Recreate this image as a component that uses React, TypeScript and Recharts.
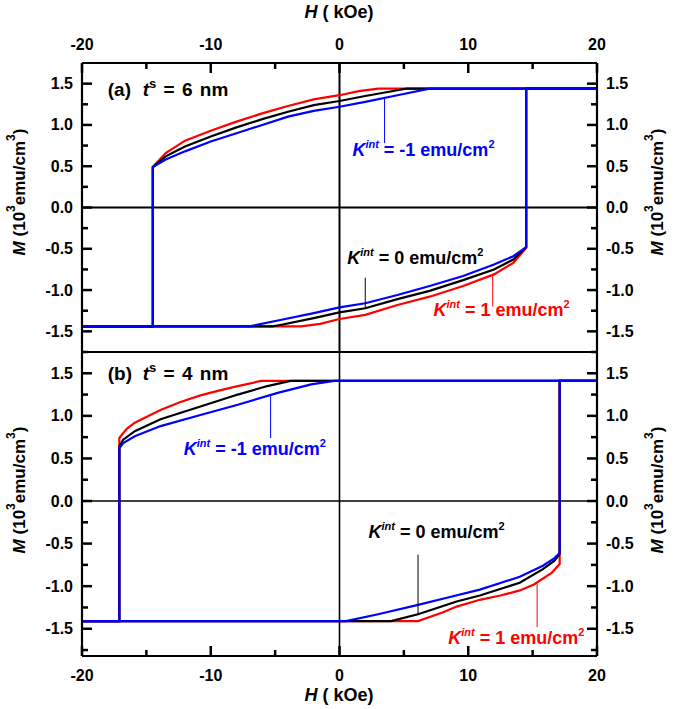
import React from 'react';
import { LineChart, Line, XAxis, YAxis, ReferenceLine, ReferenceDot } from 'recharts';

type Pt = [number, number];

// ---------- axes ----------
const H_TICKS = [-20, -15, -10, -5, 0, 5, 10, 15, 20];
const H_LABELED = [-20, -10, 0, 10, 20];
const M_TICKS = [-1.75, -1.5, -1.25, -1, -0.75, -0.5, -0.25, 0, 0.25, 0.5, 0.75, 1, 1.25, 1.5];
const M_LABELED = [-1.5, -1, -0.5, 0, 0.5, 1, 1.5];
const H_DOMAIN: [number, number] = [-20, 20];
const DOMAIN_A: [number, number] = [-1.75, 1.75];
const DOMAIN_B: [number, number] = [-1.82, 1.75];

// ---------- panel (a): t_s = 6 nm ----------
const A_RED_DOWN: Pt[] = [[20, 1.44], [3.0, 1.44], [1.5, 1.41], [0, 1.36], [-2, 1.31], [-4, 1.23], [-6, 1.14], [-8, 1.04], [-10, 0.93], [-12, 0.81], [-13.5, 0.66], [-14.5, 0.49], [-14.5, -1.44], [-20, -1.44]];
const A_BLACK_DOWN: Pt[] = [[20, 1.44], [5.2, 1.44], [4.5, 1.42], [2, 1.35], [0, 1.29], [-2, 1.24], [-4, 1.16], [-6, 1.07], [-8, 0.97], [-10, 0.86], [-12, 0.74], [-13.5, 0.62], [-14.5, 0.49], [-14.5, -1.44], [-20, -1.44]];
const A_BLUE_DOWN: Pt[] = [[20, 1.44], [7, 1.44], [4.5, 1.36], [2, 1.28], [0, 1.22], [-2, 1.17], [-4, 1.10], [-6, 1.00], [-8, 0.90], [-10, 0.80], [-12, 0.68], [-13.5, 0.58], [-14.5, 0.49], [-14.5, -1.44], [-20, -1.44]];
const A_RED_UP: Pt[] = [[-20, -1.44], [-3, -1.44], [-1.5, -1.41], [0, -1.35], [2, -1.30], [4.5, -1.18], [7, -1.08], [9.6, -0.95], [12, -0.81], [13.5, -0.67], [14.5, -0.49], [14.5, 1.44], [20, 1.44]];
const A_BLACK_UP: Pt[] = [[-20, -1.44], [-5.2, -1.44], [-4.5, -1.42], [-2, -1.34], [0, -1.27], [2, -1.22], [4.5, -1.11], [7, -1.01], [9.6, -0.88], [12, -0.75], [13.5, -0.63], [14.5, -0.48], [14.5, 1.44], [20, 1.44]];
const A_BLUE_UP: Pt[] = [[-20, -1.44], [-7, -1.44], [-4.5, -1.36], [-2, -1.28], [0, -1.21], [2, -1.16], [4.5, -1.06], [7, -0.95], [9.6, -0.83], [12, -0.69], [13.5, -0.59], [14.5, -0.48], [14.5, 1.44], [20, 1.44]];

// ---------- panel (b): t_s = 4 nm ----------
const B_RED_DOWN: Pt[] = [[20, 1.41], [-6.1, 1.41], [-7.9, 1.35], [-9.3, 1.30], [-10.8, 1.24], [-12.4, 1.16], [-13.9, 1.07], [-15.9, 0.92], [-16.5, 0.85], [-17.0, 0.76], [-17.1, 0.74], [-17.1, -1.41], [-20, -1.41]];
const B_BLACK_DOWN: Pt[] = [[20, 1.41], [-3.8, 1.41], [-5.6, 1.35], [-7.9, 1.25], [-10.8, 1.11], [-13.9, 0.96], [-15.9, 0.82], [-16.8, 0.72], [-17.1, 0.64], [-17.1, -1.41], [-20, -1.41]];
const B_BLUE_DOWN: Pt[] = [[20, 1.41], [-0.4, 1.41], [-2.2, 1.37], [-4.8, 1.27], [-7.9, 1.13], [-10.8, 1.01], [-13.9, 0.88], [-15.9, 0.76], [-16.8, 0.68], [-17.1, 0.62], [-17.1, -1.41], [-20, -1.41]];
const B_RED_UP: Pt[] = [[-20, -1.41], [6.1, -1.41], [8, -1.31], [9.1, -1.24], [10.9, -1.16], [12.5, -1.11], [14, -1.05], [15.1, -0.98], [16.5, -0.84], [17.1, -0.74], [17.1, 1.41], [20, 1.41]];
const B_BLACK_UP: Pt[] = [[-20, -1.41], [4.0, -1.41], [6.1, -1.33], [9.1, -1.18], [10.9, -1.11], [14, -0.96], [15.8, -0.80], [16.7, -0.70], [17.1, -0.62], [17.1, 1.41], [20, 1.41]];
const B_BLUE_UP: Pt[] = [[-20, -1.41], [0.5, -1.41], [3, -1.33], [6.1, -1.22], [8.5, -1.13], [10.9, -1.04], [14, -0.89], [15.8, -0.76], [16.7, -0.67], [17.1, -0.61], [17.1, 1.41], [20, 1.41]];

// ---------- annotations: [textH, textM, leaderH, leaderM1, leaderM2] ----------
const K_VALUES = ['-1', '0', '1'];
const A_NOTES: number[][] = [[1.0, 0.62, 3.5, 1.33, 0.78], [0.6, -0.69, 2.0, -0.85, -1.22], [7.3, -1.32, 11.9, -0.81, -1.2]];
const B_NOTES: number[][] = [[-12.1, 0.545, -5.35, 1.25, 0.74], [2.25, -0.43, 6.1, -0.63, -1.33], [8.45, -1.68, 15.35, -0.97, -1.48]];
const PANEL_TAGS = ['(a)', '(b)'];
const PANEL_THICK = ['6 nm', '4 nm'];
const A_TAG_POS: Pt = [-18.0, 1.345];
const B_TAG_POS: Pt = [-18.0, 1.42];

const FONT = '"Liberation Sans", Arial, Helvetica, sans-serif';
const RED = '#ff0000';
const BLACK = '#000000';
const BLUE = '#0000ff';
const NOTE_COLORS = [BLUE, BLACK, RED];
const MAJOR_LEN = 10;
const MINOR_LEN = 6;

const rows = (pts: Pt[]) => pts.map(([h, m]) => ({ h, m }));

// x-axis tick: inward tick mark + label outside (tickSize=0, tickMargin=0 => (x,y) sits on the axis line)
function HTick(props: any) {
  const { x, y, payload, side } = props;
  const v = payload.value;
  const major = H_LABELED.includes(v);
  const dir = side === 'top' ? 1 : -1;
  const len = major ? MAJOR_LEN : MINOR_LEN;
  return (
    <g>
      <path d={`M${x},${y}L${x},${y + dir * len}`} stroke="#000" strokeWidth={2.5} fill="none" />
      {major && (
        <text x={x} y={side === 'top' ? y - 19 : y + 19} textAnchor="middle" dominantBaseline="central"
          fontFamily={FONT} fontWeight="bold" fontSize={16} fill="#000">{String(v)}</text>
      )}
    </g>
  );
}

function MTick(props: any) {
  const { x, y, payload, side } = props;
  const v = payload.value;
  const major = M_LABELED.includes(v);
  const dir = side === 'left' ? 1 : -1;
  const len = major ? MAJOR_LEN : MINOR_LEN;
  return (
    <g>
      <path d={`M${x},${y}L${x + dir * len},${y}`} stroke="#000" strokeWidth={2.5} fill="none" />
      {major && (
        <text x={side === 'left' ? x - 9 : x + 9} y={y} textAnchor={side === 'left' ? 'end' : 'start'}
          dominantBaseline="central" fontFamily={FONT} fontWeight="bold" fontSize={16} fill="#000">
          {v.toFixed(1)}
        </text>
      )}
    </g>
  );
}

function KLabel({ x, y, value, color }: any) {
  return (
    <text x={x} y={y} fill={color} fontFamily={FONT} fontWeight="bold" fontSize={18} xmlSpace="preserve">
      <tspan fontStyle="italic">K</tspan>
      <tspan fontStyle="italic" fontSize={11} dy={-8}>int</tspan>
      <tspan dy={8}>{' = ' + value + ' emu/cm'}</tspan>
      <tspan fontSize={11} dy={-8}>2</tspan>
    </text>
  );
}

function PanelTag({ x, y, tag, thick }: any) {
  return (
    <g>
      <text x={x} y={y} fontFamily={FONT} fontWeight="bold" fontSize={19} fill="#000">{tag}</text>
      <text x={x + 35} y={y} fontFamily={FONT} fontWeight="bold" fontSize={19} fill="#000" xmlSpace="preserve" wordSpacing={2}>
        <tspan fontStyle="italic">t</tspan>
        <tspan fontSize={13} dy={-8}>s</tspan>
        <tspan dy={8}>{' = ' + thick}</tspan>
      </text>
    </g>
  );
}

function MTitle({ x, y }: any) {
  return (
    <text transform={`translate(${x},${y}) rotate(-90)`} textAnchor="middle" dominantBaseline="central"
      fontFamily={FONT} fontWeight="bold" fontSize={17} fill="#000" xmlSpace="preserve">
      <tspan fontStyle="italic">M</tspan>
      <tspan>{' (10'}</tspan>
      <tspan fontSize={12} dy={-8}>3</tspan>
      <tspan dy={8}>emu/cm</tspan>
      <tspan fontSize={12} dy={-8}>3</tspan>
      <tspan dy={8}>)</tspan>
    </text>
  );
}

const AX = { stroke: '#000', strokeWidth: 2.2 };

function series(list: Pt[][], colors: string[], prefix: string) {
  return list.map((pts, i) => (
    <Line key={prefix + i} data={rows(pts)} dataKey="m" type="linear" stroke={colors[i]} strokeWidth={2.2}
      dot={false} activeDot={false} isAnimationActive={false} />
  ));
}

function notes(list: number[][], prefix: string) {
  const out: any[] = [];
  list.forEach((n, i) => {
    out.push(
      <ReferenceLine key={prefix + 'l' + i} segment={[{ x: n[2], y: n[3] }, { x: n[2], y: n[4] }]}
        stroke={NOTE_COLORS[i]} strokeWidth={1} />
    );
    out.push(
      <ReferenceDot key={prefix + 'd' + i} x={n[0]} y={n[1]} r={0}
        shape={(p: any) => <KLabel x={p.cx} y={p.cy} value={K_VALUES[i]} color={NOTE_COLORS[i]} />} />
    );
  });
  return out;
}

function axes(domainM: [number, number], xSide: 'top' | 'bottom') {
  return [
    <XAxis key="x" type="number" dataKey="h" orientation={xSide} domain={H_DOMAIN} ticks={H_TICKS} interval={0}
      height={30} tickSize={0} tickMargin={0} tickLine={false} axisLine={AX} allowDataOverflow
      tick={(p: any) => <HTick {...p} side={xSide} />} />,
    <YAxis key="yl" type="number" orientation="left" domain={domainM} ticks={M_TICKS} interval={0} width={40}
      tickSize={0} tickMargin={0} tickLine={false} axisLine={AX} allowDataOverflow
      tick={(p: any) => <MTick {...p} side="left" />} />,
    <YAxis key="yr" yAxisId="r" type="number" orientation="right" domain={domainM} ticks={M_TICKS} interval={0} width={40}
      tickSize={0} tickMargin={0} tickLine={false} axisLine={AX} allowDataOverflow
      tick={(p: any) => <MTick {...p} side="right" />} />,
  ];
}

export default function App() {
  const abs: React.CSSProperties = { position: 'absolute', left: 0, top: 0 };
  return (
    <div style={{ position: 'absolute', left: 0, top: 0, width: 675, height: 709, background: '#fff' }}>
      <div style={abs}>
        <LineChart width={675} height={709} margin={{ top: 33, right: 38, bottom: 357, left: 42 }}>
          {axes(DOMAIN_A, 'top')}
          <ReferenceLine x={0} stroke="#000" strokeWidth={2} />
          <ReferenceLine y={0} stroke="#000" strokeWidth={2} />
          <ReferenceLine y={DOMAIN_A[0]} stroke="#000" strokeWidth={2.2} />
          {series([A_RED_DOWN, A_RED_UP, A_BLACK_DOWN, A_BLACK_UP, A_BLUE_DOWN, A_BLUE_UP], [RED, RED, BLACK, BLACK, BLUE, BLUE], 'a')}
          {notes(A_NOTES, 'a')}
          <ReferenceDot x={A_TAG_POS[0]} y={A_TAG_POS[1]} r={0}
            shape={(p: any) => <PanelTag x={p.cx} y={p.cy} tag={PANEL_TAGS[0]} thick={PANEL_THICK[0]} />} />
        </LineChart>
      </div>
      <div style={abs}>
        <LineChart width={675} height={709} margin={{ top: 352, right: 38, bottom: 23, left: 42 }}>
          {axes(DOMAIN_B, 'bottom')}
          <ReferenceLine x={0} stroke="#000" strokeWidth={1.6} />
          <ReferenceLine y={0} stroke="#000" strokeWidth={1.6} />
          <ReferenceLine y={DOMAIN_B[1]} stroke="#000" strokeWidth={2.2} />
          {series([B_RED_DOWN, B_RED_UP, B_BLACK_DOWN, B_BLACK_UP, B_BLUE_DOWN, B_BLUE_UP], [RED, RED, BLACK, BLACK, BLUE, BLUE], 'b')}
          {notes(B_NOTES, 'b')}
          <ReferenceDot x={B_TAG_POS[0]} y={B_TAG_POS[1]} r={0}
            shape={(p: any) => <PanelTag x={p.cx} y={p.cy} tag={PANEL_TAGS[1]} thick={PANEL_THICK[1]} />} />
        </LineChart>
      </div>
      <svg width={675} height={709} style={{ ...abs, pointerEvents: 'none' }}>
        <text x={339} y={18} textAnchor="middle" fontFamily={FONT} fontWeight="bold" fontSize={18} fill="#000" xmlSpace="preserve">
          <tspan fontStyle="italic">H</tspan><tspan>{' ( kOe)'}</tspan>
        </text>
        <text x={339} y={701} textAnchor="middle" fontFamily={FONT} fontWeight="bold" fontSize={18} fill="#000" xmlSpace="preserve">
          <tspan fontStyle="italic">H</tspan><tspan>{' ( kOe)'}</tspan>
        </text>
        <MTitle x={19} y={192} />
        <MTitle x={657} y={192} />
        <MTitle x={19} y={490} />
        <MTitle x={657} y={490} />
      </svg>
    </div>
  );
}
